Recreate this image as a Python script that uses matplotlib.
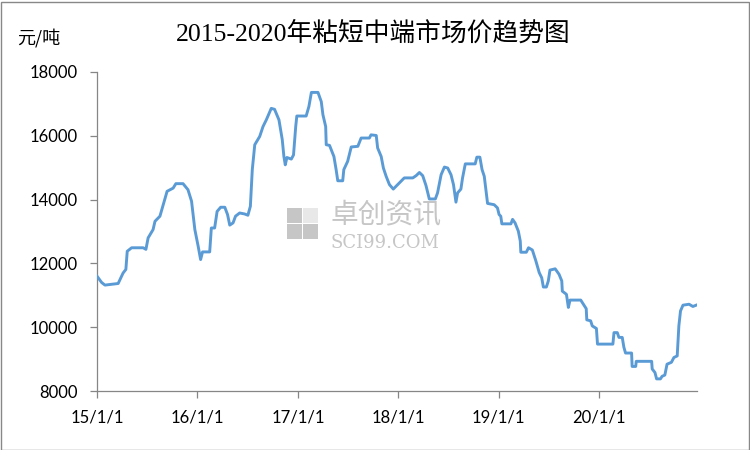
import matplotlib
matplotlib.use("Agg")
import matplotlib.pyplot as plt
import matplotlib.patches as patches
import pandas as pd

# price trace (元/吨)
dates = [
    "2015-01-01", "2015-01-18", "2015-01-30", "2015-03-19", "2015-04-06", "2015-04-16",
    "2015-04-21", "2015-05-07", "2015-06-18", "2015-06-28", "2015-07-06", "2015-07-24",
    "2015-07-31", "2015-08-18", "2015-08-30", "2015-09-13", "2015-10-05", "2015-10-15",
    "2015-11-10", "2015-11-28", "2015-12-11", "2015-12-23", "2016-01-04", "2016-01-13",
    "2016-01-20", "2016-02-15", "2016-02-21", "2016-03-04", "2016-03-13", "2016-03-26",
    "2016-04-10", "2016-04-20", "2016-04-28", "2016-05-10", "2016-05-19", "2016-06-03",
    "2016-06-21", "2016-07-03", "2016-07-12", "2016-07-19", "2016-07-28", "2016-08-15",
    "2016-08-27", "2016-09-08", "2016-09-26", "2016-10-08", "2016-10-24", "2016-11-05",
    "2016-11-11", "2016-11-16", "2016-11-22", "2016-12-08", "2016-12-16", "2016-12-24",
    "2016-12-28", "2017-01-31", "2017-02-10", "2017-02-19", "2017-03-15", "2017-03-27",
    "2017-04-02", "2017-04-12", "2017-04-14", "2017-04-26", "2017-05-12", "2017-05-20",
    "2017-05-26", "2017-06-13", "2017-06-17", "2017-07-01", "2017-07-14", "2017-08-07",
    "2017-08-19", "2017-09-18", "2017-09-24", "2017-10-13", "2017-10-18", "2017-10-31",
    "2017-11-08", "2017-11-18", "2017-11-30", "2017-12-14", "2017-12-30", "2018-01-23",
    "2018-02-23", "2018-03-07", "2018-03-19", "2018-03-31", "2018-04-12", "2018-04-24",
    "2018-05-16", "2018-05-24", "2018-06-06", "2018-06-18", "2018-06-30", "2018-07-12",
    "2018-07-21", "2018-07-30", "2018-08-05", "2018-08-17", "2018-08-23", "2018-09-02",
    "2018-10-08", "2018-10-14", "2018-10-25", "2018-11-02", "2018-11-10", "2018-11-22",
    "2018-12-16", "2018-12-28", "2019-01-03", "2019-01-09", "2019-01-13", "2019-02-15",
    "2019-02-21", "2019-03-02", "2019-03-14", "2019-03-21", "2019-03-23", "2019-04-12",
    "2019-04-20", "2019-05-04", "2019-05-17", "2019-05-29", "2019-06-07", "2019-06-13",
    "2019-06-24", "2019-07-01", "2019-07-07", "2019-07-26", "2019-08-09", "2019-08-19",
    "2019-08-21", "2019-09-05", "2019-09-12", "2019-09-18", "2019-10-27", "2019-11-08",
    "2019-11-16", "2019-11-18", "2019-12-02", "2019-12-08", "2019-12-23", "2019-12-27",
    "2020-02-21", "2020-02-25", "2020-03-08", "2020-03-14", "2020-03-26", "2020-04-01",
    "2020-04-07", "2020-04-29", "2020-05-01", "2020-05-14", "2020-05-16", "2020-07-11",
    "2020-07-13", "2020-07-23", "2020-07-29", "2020-08-12", "2020-08-18", "2020-08-28",
    "2020-09-05", "2020-09-21", "2020-09-30", "2020-10-12", "2020-10-18", "2020-10-24",
    "2020-11-02", "2020-11-24", "2020-12-08", "2020-12-20",
]
prices = [
    11600, 11400, 11320, 11370, 11700, 11810,
    12380, 12490, 12490, 12440, 12800, 13060,
    13320, 13480, 13840, 14260, 14360, 14500,
    14500, 14310, 13950, 13060, 12540, 12120,
    12360, 12360, 13110, 13110, 13630, 13760,
    13760, 13530, 13200, 13270, 13480, 13580,
    13550, 13510, 13790, 14940, 15720, 15980,
    16290, 16500, 16860, 16830, 16500, 15880,
    15350, 15090, 15320, 15270, 15400, 16290,
    16620, 16620, 16920, 17360, 17360, 17070,
    16660, 16290, 15720, 15700, 15350, 14940,
    14590, 14590, 14940, 15200, 15650, 15670,
    15930, 15930, 16030, 16010, 15620, 15350,
    14990, 14730, 14470, 14330, 14470, 14680,
    14680, 14750, 14850, 14750, 14440, 14020,
    14020, 14210, 14780, 15020, 14990, 14780,
    14470, 13920, 14210, 14330, 14680, 15120,
    15120, 15330, 15330, 14940, 14730, 13880,
    13840, 13740, 13530, 13480, 13240, 13240,
    13380, 13270, 13010, 12700, 12350, 12350,
    12490, 12420, 12070, 11710, 11550, 11260,
    11260, 11450, 11790, 11830, 11660, 11450,
    11130, 11030, 10620, 10850, 10850, 10690,
    10580, 10230, 10200, 10040, 9960, 9470,
    9470, 9830, 9830, 9680, 9680, 9370,
    9190, 9190, 8770, 8770, 8930, 8930,
    8690, 8580, 8380, 8380, 8460, 8500,
    8840, 8900, 9050, 9100, 10040, 10510,
    10690, 10720, 10650, 10690,
]

x_ticks = ["2015-01-01", "2016-01-01", "2017-01-01", "2018-01-01", "2019-01-01", "2020-01-01"]
x_tick_labels = ["15/1/1", "16/1/1", "17/1/1", "18/1/1", "19/1/1", "20/1/1"]
y_ticks = [8000, 10000, 12000, 14000, 16000, 18000]

title = "2015-2020年粘短中端市场价趋势图"
unit = "元/吨"
wm_name = "卓创资讯"
wm_site = "SCI99.COM"

line_color = "#5B9BD5"
axis_color = "#868686"
wm_gray = "#c6c6c6"
cjk_serif = ["Liberation Serif", "Noto Sans CJK SC"]
cjk_sans = ["Noto Sans CJK SC", "DejaVu Sans"]

W, H = 750, 450
fig = plt.figure(figsize=(7.5, 4.5), dpi=100)
ax = fig.add_axes([97 / W, 1 - 391 / H, 600 / W, 319 / H])

x = pd.to_datetime(dates)
ax.plot(x, prices, color=line_color, linewidth=2.1, solid_joinstyle="round", zorder=3)

ax.set_xlim(pd.Timestamp("2015-01-01"), pd.Timestamp("2020-12-23"))
ax.set_ylim(8000, 18000)
ax.set_yticks(y_ticks)
ax.set_xticks(pd.to_datetime(x_ticks))
ax.set_xticklabels(x_tick_labels)
ax.patch.set_alpha(0)

for side in ("top", "right"):
    ax.spines[side].set_visible(False)
for side in ("left", "bottom"):
    ax.spines[side].set_color(axis_color)
    ax.spines[side].set_linewidth(0.9)

ax.tick_params(axis="both", direction="out", length=5, width=0.9, color=axis_color,
               labelsize=12, labelcolor="black")
ax.tick_params(axis="y", pad=9)
ax.tick_params(axis="x", pad=8)
for lbl in ax.get_xticklabels() + ax.get_yticklabels():
    lbl.set_family("Lato")

# title and unit
fig.text(373 / W, 1 - 33 / H, title, ha="center", va="center", fontsize=18.5, family=cjk_serif)
fig.text(17 / W, 1 - 38 / H, unit, ha="left", va="center", fontsize=13, family=cjk_sans)

# watermark: logo squares + name + site
for (lx, ly, alpha) in [(287, 208, 1.0), (303, 208, 0.4), (287, 224, 1.0), (303, 224, 1.0)]:
    fig.patches.append(patches.Rectangle((lx / W, 1 - (ly + 15) / H), 15 / W, 15 / H,
                                         transform=fig.transFigure, facecolor=wm_gray,
                                         edgecolor="none", alpha=alpha, zorder=0))
fig.text(331 / W, 1 - 215 / H, wm_name, ha="left", va="center", fontsize=20,
         color=wm_gray, family=cjk_sans, zorder=0)
fig.text(331 / W, 1 - 243 / H, wm_site, ha="left", va="center", fontsize=13,
         color=wm_gray, family="DejaVu Serif", zorder=0)

# outer frame
fig.patches.append(patches.Rectangle((0.5 / W, 0.5 / H), 748 / W, 448 / H,
                                     transform=fig.transFigure, facecolor="none",
                                     edgecolor="#888888", linewidth=1.0))

fig.savefig("out.png", dpi=100)
